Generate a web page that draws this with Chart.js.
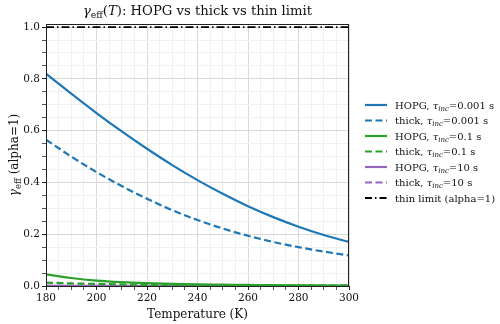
<!DOCTYPE html>
<html>
<head>
<meta charset="utf-8">
<script src="https://cdn.jsdelivr.net/npm/chart.js@4.4.1/dist/chart.umd.min.js"></script>
<style>
  html, body { margin: 0; padding: 0; background: #fff; }
  #wrap { width: 500px; height: 324px; }
</style>
</head>
<body>
<div id="wrap"><canvas id="c" width="500" height="324"></canvas></div>
<script>
// temperatures (K)
const temps = [180, 190, 200, 210, 220, 230, 240, 250, 260, 270, 280, 290, 300];

// gamma_eff
const hopgFast  = [0.82, 0.743, 0.668, 0.597, 0.530, 0.467, 0.409, 0.356, 0.308, 0.266, 0.229, 0.197, 0.170];
const thickFast = [0.565, 0.500, 0.440, 0.386, 0.337, 0.293, 0.255, 0.222, 0.194, 0.170, 0.150, 0.133, 0.118];
const hopgMid   = [0.045, 0.031, 0.021, 0.015, 0.011, 0.008, 0.006, 0.005, 0.004, 0.003, 0.0025, 0.002, 0.0018];
const thickMid  = [0.013, 0.010, 0.008, 0.006, 0.0045, 0.0035, 0.003, 0.0025, 0.002, 0.0017, 0.0015, 0.0013, 0.0012];
const hopgSlow  = [0.0005, 0.0004, 0.0003, 0.0002, 0.0002, 0.0001, 0.0001, 0.0001, 0.0001, 0.0001, 0.0001, 0.0001, 0.0001];
const thickSlow = [0.0001, 0.0001, 0.0001, 0.0001, 0.0001, 0.0001, 0.0001, 0.0001, 0.0001, 0.0001, 0.0001, 0.0001, 0.0001];
const thinLimit = [1, 1, 1, 1, 1, 1, 1, 1, 1, 1, 1, 1, 1];

const tauLabels = ['0.001', '0.001', '0.1', '0.1', '10', '10'];
const xTicks = [180, 200, 220, 240, 260, 280, 300];
const yTicks = [0.0, 0.2, 0.4, 0.6, 0.8, 1.0];

const FONT = '"DejaVu Serif", serif';
const BLUE = '#1f77b4', GREEN = '#2ca02c', PURPLE = '#9467bd';

function pts(vals) {
    return temps.map((t, i) => ({ x: t, y: vals[i] }));
}

function series(name, vals, color, dash, width) {
    return {
        label: name,
        data: pts(vals),
        borderColor: color,
        backgroundColor: color,
        borderWidth: width || 2.2,
        borderDash: dash || [],
        pointRadius: 0,
        cubicInterpolationMode: 'monotone',
        fill: false
    };
}

const datasets = [
    series('HOPG', hopgFast, BLUE),
    series('thick', thickFast, BLUE, [7, 3.5]),
    series('HOPG', hopgMid, GREEN),
    series('thick', thickMid, GREEN, [7, 3.5]),
    series('HOPG', hopgSlow, PURPLE),
    series('thick', thickSlow, PURPLE, [7, 3.5]),
    series('thin limit (alpha=1)', thinLimit, '#000', [8, 3, 1.5, 3], 1.8)
];

// draws a string made of pieces, some italic, some subscript
function drawRich(ctx, parts, x, y, size, align) {
    let total = 0;
    const widths = parts.map(p => {
        const s = p.sub ? size * 0.7 : size;
        ctx.font = (p.italic ? 'italic ' : '') + s + 'px ' + FONT;
        const w = ctx.measureText(p.t).width;
        total += w;
        return w;
    });
    let cx = align === 'center' ? x - total / 2 : x;
    ctx.textBaseline = 'alphabetic';
    ctx.textAlign = 'left';
    parts.forEach((p, i) => {
        const s = p.sub ? size * 0.7 : size;
        ctx.font = (p.italic ? 'italic ' : '') + s + 'px ' + FONT;
        ctx.fillText(p.t, cx, p.sub ? y + size * 0.22 : y);
        cx += widths[i];
    });
}

const extras = {
    id: 'extras',
    afterDraw(chart) {
        const ctx = chart.ctx;
        const area = chart.chartArea;
        ctx.save();
        ctx.fillStyle = '#111';

        // title
        drawRich(ctx, [
            { t: 'γ', italic: true }, { t: 'eff', sub: true },
            { t: '(' }, { t: 'T', italic: true }, { t: '): HOPG vs thick vs thin limit' }
        ], (area.left + area.right) / 2, 15, 13.2, 'center');

        // y axis title
        ctx.save();
        ctx.translate(18, (area.top + area.bottom) / 2);
        ctx.rotate(-Math.PI / 2);
        drawRich(ctx, [
            { t: 'γ', italic: true }, { t: 'eff', sub: true }, { t: ' (alpha=1)' }
        ], 0, 0, 12, 'center');
        ctx.restore();

        // frame
        ctx.strokeStyle = '#222';
        ctx.lineWidth = 1;
        ctx.strokeRect(area.left + 0.5, area.top + 0.5, area.right - area.left - 1, area.bottom - area.top);

        // legend
        const lx = 365, ly0 = 105, step = 15.5;
        chart.data.datasets.forEach((ds, i) => {
            const y = ly0 + i * step;
            ctx.beginPath();
            ctx.strokeStyle = ds.borderColor;
            ctx.lineWidth = ds.borderWidth;
            ctx.setLineDash(i === 6 ? [7, 3, 1.5, 3] : ds.borderDash);
            ctx.moveTo(lx, y);
            ctx.lineTo(lx + 22, y);
            ctx.stroke();
            ctx.setLineDash([]);
            ctx.fillStyle = '#111';
            if (i < 6) {
                drawRich(ctx, [
                    { t: ds.label + ', ' }, { t: 'τ', italic: true }, { t: 'inc', italic: true, sub: true },
                    { t: '=' + tauLabels[i] + ' s' }
                ], lx + 30, y + 3.5, 10, 'left');
            } else {
                drawRich(ctx, [{ t: ds.label }], lx + 30, y + 3.5, 10, 'left');
            }
        });
        ctx.restore();
    }
};

const minorGrid = '#f1f1f1', majorGrid = '#d9d9d9';

new Chart(document.getElementById('c'), {
    type: 'line',
    data: { datasets: datasets },
    plugins: [extras],
    options: {
        responsive: false,
        animation: false,
        layout: { padding: { top: 24, right: 151, left: 0, bottom: 0 } },
        plugins: { legend: { display: false }, tooltip: { enabled: false } },
        scales: {
            x: {
                type: 'linear',
                min: 180,
                max: 300,
                afterBuildTicks(scale) {
                    const t = [];
                    for (let v = 180; v <= 300; v += 5) t.push({ value: v });
                    scale.ticks = t;
                },
                afterFit(scale) { scale.height = 38; },
                ticks: {
                    autoSkip: false,
                    maxRotation: 0,
                    color: '#111',
                    font: { family: FONT, size: 10.5 },
                    padding: 2,
                    callback: v => xTicks.includes(v) ? String(v) : ''
                },
                grid: {
                    color: c => xTicks.includes(c.tick.value) ? majorGrid : minorGrid,
                    tickColor: c => xTicks.includes(c.tick.value) ? '#222' : '#555',
                    tickLength: 4,
                    drawOnChartArea: true
                },
                border: { display: false },
                title: {
                    display: true,
                    text: 'Temperature (K)',
                    color: '#111',
                    font: { family: FONT, size: 12 },
                    padding: { top: 1, bottom: 2 }
                }
            },
            y: {
                min: 0,
                max: 1.012,
                afterBuildTicks(scale) {
                    const t = [];
                    for (let k = 0; k <= 20; k++) t.push({ value: k * 0.05 });
                    scale.ticks = t;
                },
                afterFit(scale) { scale.width = 46; },
                ticks: {
                    autoSkip: false,
                    color: '#111',
                    font: { family: FONT, size: 10.5 },
                    padding: 2,
                    callback: v => {
                        const k = Math.round(v * 100);
                        return k % 20 === 0 ? (k / 100).toFixed(1) : '';
                    }
                },
                grid: {
                    color: c => Math.round(c.tick.value * 100) % 20 === 0 ? majorGrid : minorGrid,
                    tickColor: c => Math.round(c.tick.value * 100) % 20 === 0 ? '#222' : '#555',
                    tickLength: 4
                },
                border: { display: false }
            }
        }
    }
});
</script>
</body>
</html>
